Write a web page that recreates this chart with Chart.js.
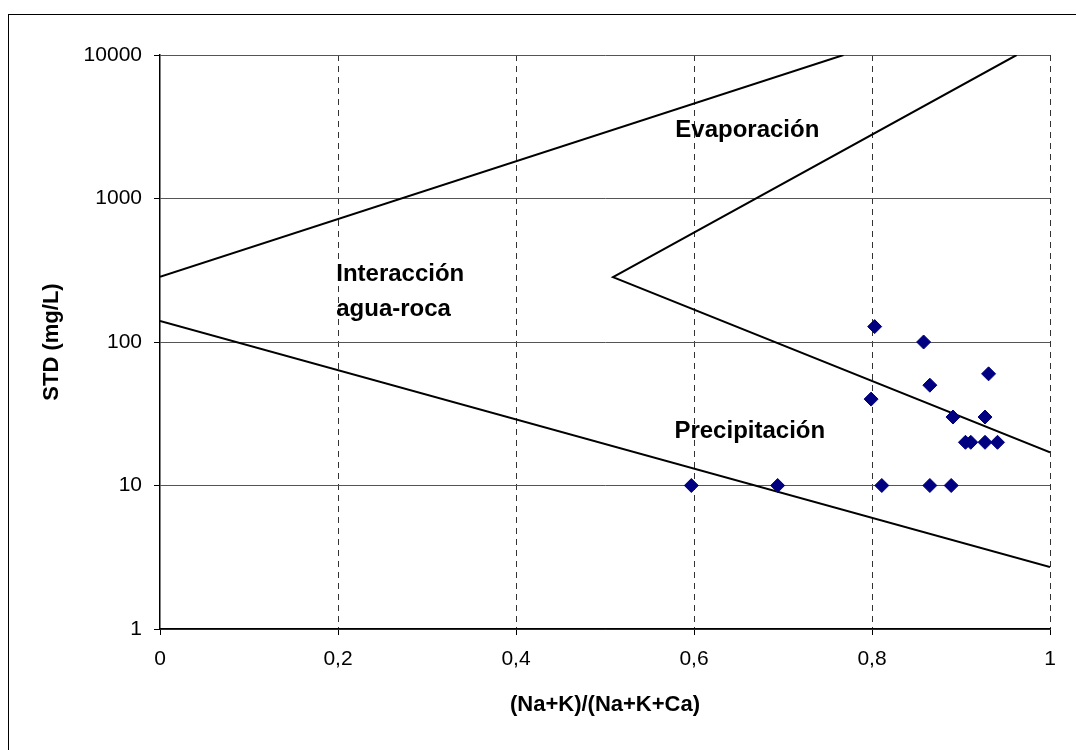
<!DOCTYPE html>
<html>
<head>
<meta charset="utf-8">
<script src="https://cdn.jsdelivr.net/npm/chart.js@4/dist/chart.umd.min.js"></script>
<style>
  html, body { margin: 0; padding: 0; background: #fff; }
  #frame { position: absolute; left: 8px; top: 14px; width: 1200px; height: 900px;
           border-left: 1px solid #000; border-top: 1px solid #000; }
  #wrap { position: absolute; left: 0; top: 0; width: 1076px; height: 750px; }
</style>
</head>
<body>
<div id="frame"></div>
<div id="wrap"><canvas id="canvas1"></canvas></div>
<script>
// Muestras: relacion (Na+K)/(Na+K+Ca) y STD (mg/L)
const muestrasX = [0.597, 0.694, 0.811, 0.865, 0.889,
                   0.803, 0.858, 0.931, 0.865, 0.799, 0.891, 0.927,
                   0.905, 0.911, 0.927, 0.941];
const muestrasY = [10, 10, 10, 10, 10,
                   128, 100, 60, 50, 40, 30, 30,
                   20, 20, 20, 20];

// Limites del diagrama de Gibbs
const limiteSuperiorX = [0, 0.768];
const limiteSuperiorY = [285, 10000];
const limiteMedioX = [0.9625, 0.509, 1];
const limiteMedioY = [10000, 283, 17];
const limiteInferiorX = [0, 1];
const limiteInferiorY = [140, 2.7];

// Etiquetas de zonas
const zonas = [
  { texto: ['Evaporación'], x: 0.579, y: 3000 },
  { texto: ['Interacción', 'agua-roca'], x: 0.198, y: 298 },
  { texto: ['Precipitación'], x: 0.578, y: 23.7 }
];

const ticksX = [0, 0.2, 0.4, 0.6, 0.8, 1];
const ticksY = [1, 10, 100, 1000, 10000];

const toPoints = (xs, ys) => xs.map((x, i) => ({ x: x, y: ys[i] }));

const lineaNegra = (xs, ys) => ({
  type: 'line',
  data: toPoints(xs, ys),
  borderColor: '#000',
  borderWidth: 2,
  pointRadius: 0,
  fill: false,
  tension: 0
});

// Plugin para escribir los nombres de las zonas
const zonasPlugin = {
  id: 'zonas',
  afterDatasetsDraw(chart) {
    const ctx = chart.ctx;
    const sx = chart.scales.x, sy = chart.scales.y;
    ctx.save();
    ctx.fillStyle = '#000';
    ctx.font = 'bold 24px "Liberation Sans", Arial, sans-serif';
    ctx.textAlign = 'left';
    ctx.textBaseline = 'middle';
    zonas.forEach(z => {
      const px = sx.getPixelForValue(z.x);
      const py = sy.getPixelForValue(z.y);
      z.texto.forEach((t, i) => ctx.fillText(t, px, py + i * 35));
    });
    ctx.restore();
  }
};

const canvas = document.getElementById('canvas1');
canvas.width = 1076;
canvas.height = 750;

const fuente = '"Liberation Sans", Arial, sans-serif';

const config = {
  type: 'scatter',
  data: {
    datasets: [
      {
        data: toPoints(muestrasX, muestrasY),
        backgroundColor: '#000080',
        borderColor: '#000080',
        pointStyle: 'rectRot',
        pointRadius: 7,
        pointHoverRadius: 7
      },
      lineaNegra(limiteSuperiorX, limiteSuperiorY),
      lineaNegra(limiteMedioX, limiteMedioY),
      lineaNegra(limiteInferiorX, limiteInferiorY)
    ]
  },
  options: {
    responsive: false,
    animation: false,
    devicePixelRatio: 1,
    layout: { padding: { left: 0, top: 55, right: 26, bottom: 0 } },
    plugins: { legend: { display: false }, tooltip: { enabled: false } },
    scales: {
      x: {
        type: 'linear',
        min: 0,
        max: 1,
        afterFit: (s) => { s.height = 121; },
        afterBuildTicks: (s) => { s.ticks = ticksX.map(v => ({ value: v })); },
        grid: {
          // sin linea discontinua sobre el eje Y
          color: (c) => (c.tick && c.tick.value === 0) ? 'rgba(0,0,0,0)' : '#333',
          lineWidth: 1,
          tickLength: 6,
          tickColor: '#000'
        },
        border: { display: true, color: '#000', width: 1.5, dash: [6, 5] },
        ticks: {
          color: '#000',
          padding: 12,
          font: { family: fuente, size: 21 },
          callback: (v) => String(v).replace('.', ',')
        },
        title: {
          display: true,
          text: '(Na+K)/(Na+K+Ca)',
          color: '#000',
          font: { family: fuente, size: 22, weight: 'bold' },
          padding: { top: 0, bottom: 32 }
        }
      },
      y: {
        type: 'logarithmic',
        min: 1,
        max: 10000,
        afterFit: (s) => { s.width = 160; },
        afterBuildTicks: (s) => { s.ticks = ticksY.map(v => ({ value: v })); },
        grid: {
          color: '#555',
          lineWidth: 1,
          tickLength: 6,
          tickColor: '#000'
        },
        border: { display: true, color: '#000', width: 1.5 },
        ticks: {
          color: '#000',
          padding: 12,
          font: { family: fuente, size: 21 },
          callback: (v) => String(v)
        },
        title: {
          display: true,
          text: 'STD (mg/L)',
          color: '#000',
          font: { family: fuente, size: 22, weight: 'bold' },
          padding: { top: 39, bottom: 0 }
        }
      }
    }
  },
  plugins: [zonasPlugin]
};

const chart = new Chart(canvas, config);
</script>
</body>
</html>
